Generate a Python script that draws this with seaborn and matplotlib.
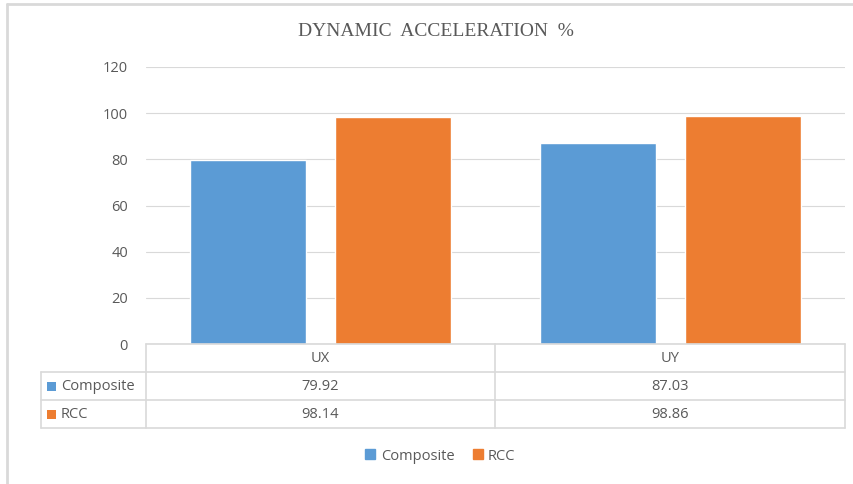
import pandas as pd
import numpy as np
import matplotlib.pyplot as plt
from matplotlib.lines import Line2D
from matplotlib.patches import Rectangle
import seaborn as sns

# chart data
directions = ['UX', 'UY']
composite = [79.92, 87.03]
rcc = [98.14, 98.86]
series_names = ['Composite', 'RCC']
colors = ['#5B9BD5', '#ED7D31']
y_ticks = [0, 20, 40, 60, 80, 100, 120]
title = 'DYNAMIC  ACCELERATION  %'

TEXT = '#595959'
GRID = '#D9D9D9'
W, H = 854, 484

sns.set_theme(style='white')
plt.rcParams['font.family'] = ['Open Sans', 'DejaVu Sans']

df = pd.DataFrame({
    'dir': directions * 2,
    'value': composite + rcc,
    'type': [series_names[0]] * 2 + [series_names[1]] * 2,
})

fig = plt.figure(figsize=(W / 100, H / 100), dpi=100)


def fx(px):
    return px / W


def fy(py):
    return 1 - py / H


# plot area in pixels: x 146..845, y 67..344
ax = fig.add_axes([fx(146), fy(344), fx(845) - fx(146), fy(67) - fy(344)])
sns.barplot(data=df, x='dir', y='value', hue='type', palette=colors,
            width=0.83, gap=0.2, saturation=1, ax=ax, legend=False)
ax.set_ylim(0, 120)
ax.set_xlim(-0.5, 1.5)
ax.set_yticks(y_ticks)
ax.set_yticklabels([str(t) for t in y_ticks], color=TEXT, fontsize=10.5)
ax.set_xticks([])
ax.set_xlabel('')
ax.set_ylabel('')
ax.tick_params(axis='y', length=0, pad=13)
ax.yaxis.grid(True, color=GRID, linewidth=0.8)
ax.set_axisbelow(True)
for s in ax.spines.values():
    s.set_visible(False)

# title
fig.text(fx(436), fy(31), title, ha='center', va='center', color=TEXT,
         fontsize=14, family='Liberation Serif')

# data table under the axis
def hline(y, x0, x1):
    fig.add_artist(Line2D([fx(x0), fx(x1)], [fy(y), fy(y)], color=GRID, lw=1.2))


def vline(x, y0, y1):
    fig.add_artist(Line2D([fx(x), fx(x)], [fy(y0), fy(y1)], color=GRID, lw=1.2))


hline(344, 146, 845)
for y in (372, 400, 428):
    hline(y, 41, 845)
vline(41, 372, 428)
for x in (146, 495.5, 845):
    vline(x, 344, 428)

col_centers = [320.5, 670]
for cx, d in zip(col_centers, directions):
    fig.text(fx(cx), fy(358), d, ha='center', va='center', color=TEXT, fontsize=10.5)
rows = [composite, rcc]
row_y = [386, 414]
for ry, vals, name, c in zip(row_y, rows, series_names, colors):
    fig.add_artist(Rectangle((fx(47), fy(ry + 4.5)), fx(9), fy(0) - fy(9),
                             transform=fig.transFigure, color=c, lw=0))
    fig.text(fx(61), fy(ry), name, ha='left', va='center', color=TEXT, fontsize=10.5)
    for cx, v in zip(col_centers, vals):
        fig.text(fx(cx), fy(ry), f'{v:.2f}', ha='center', va='center',
                 color=TEXT, fontsize=10.5)

# legend
handles = [Line2D([], [], marker='s', color=c, linestyle='', markersize=7) for c in colors]
fig.legend(handles, series_names, loc='center', bbox_to_anchor=(fx(440), fy(456)),
           ncol=2, frameon=False, fontsize=10.5, labelcolor=TEXT,
           handlelength=0.8, handletextpad=0.3, columnspacing=1.2)

# outer chart frame (left and top edges visible)
fig.add_artist(Line2D([fx(7), fx(7)], [fy(4), 0], color=GRID, lw=2))
fig.add_artist(Line2D([fx(7), 1], [fy(4), fy(4)], color=GRID, lw=2))

fig.savefig('out.png', dpi=100, facecolor='white')
